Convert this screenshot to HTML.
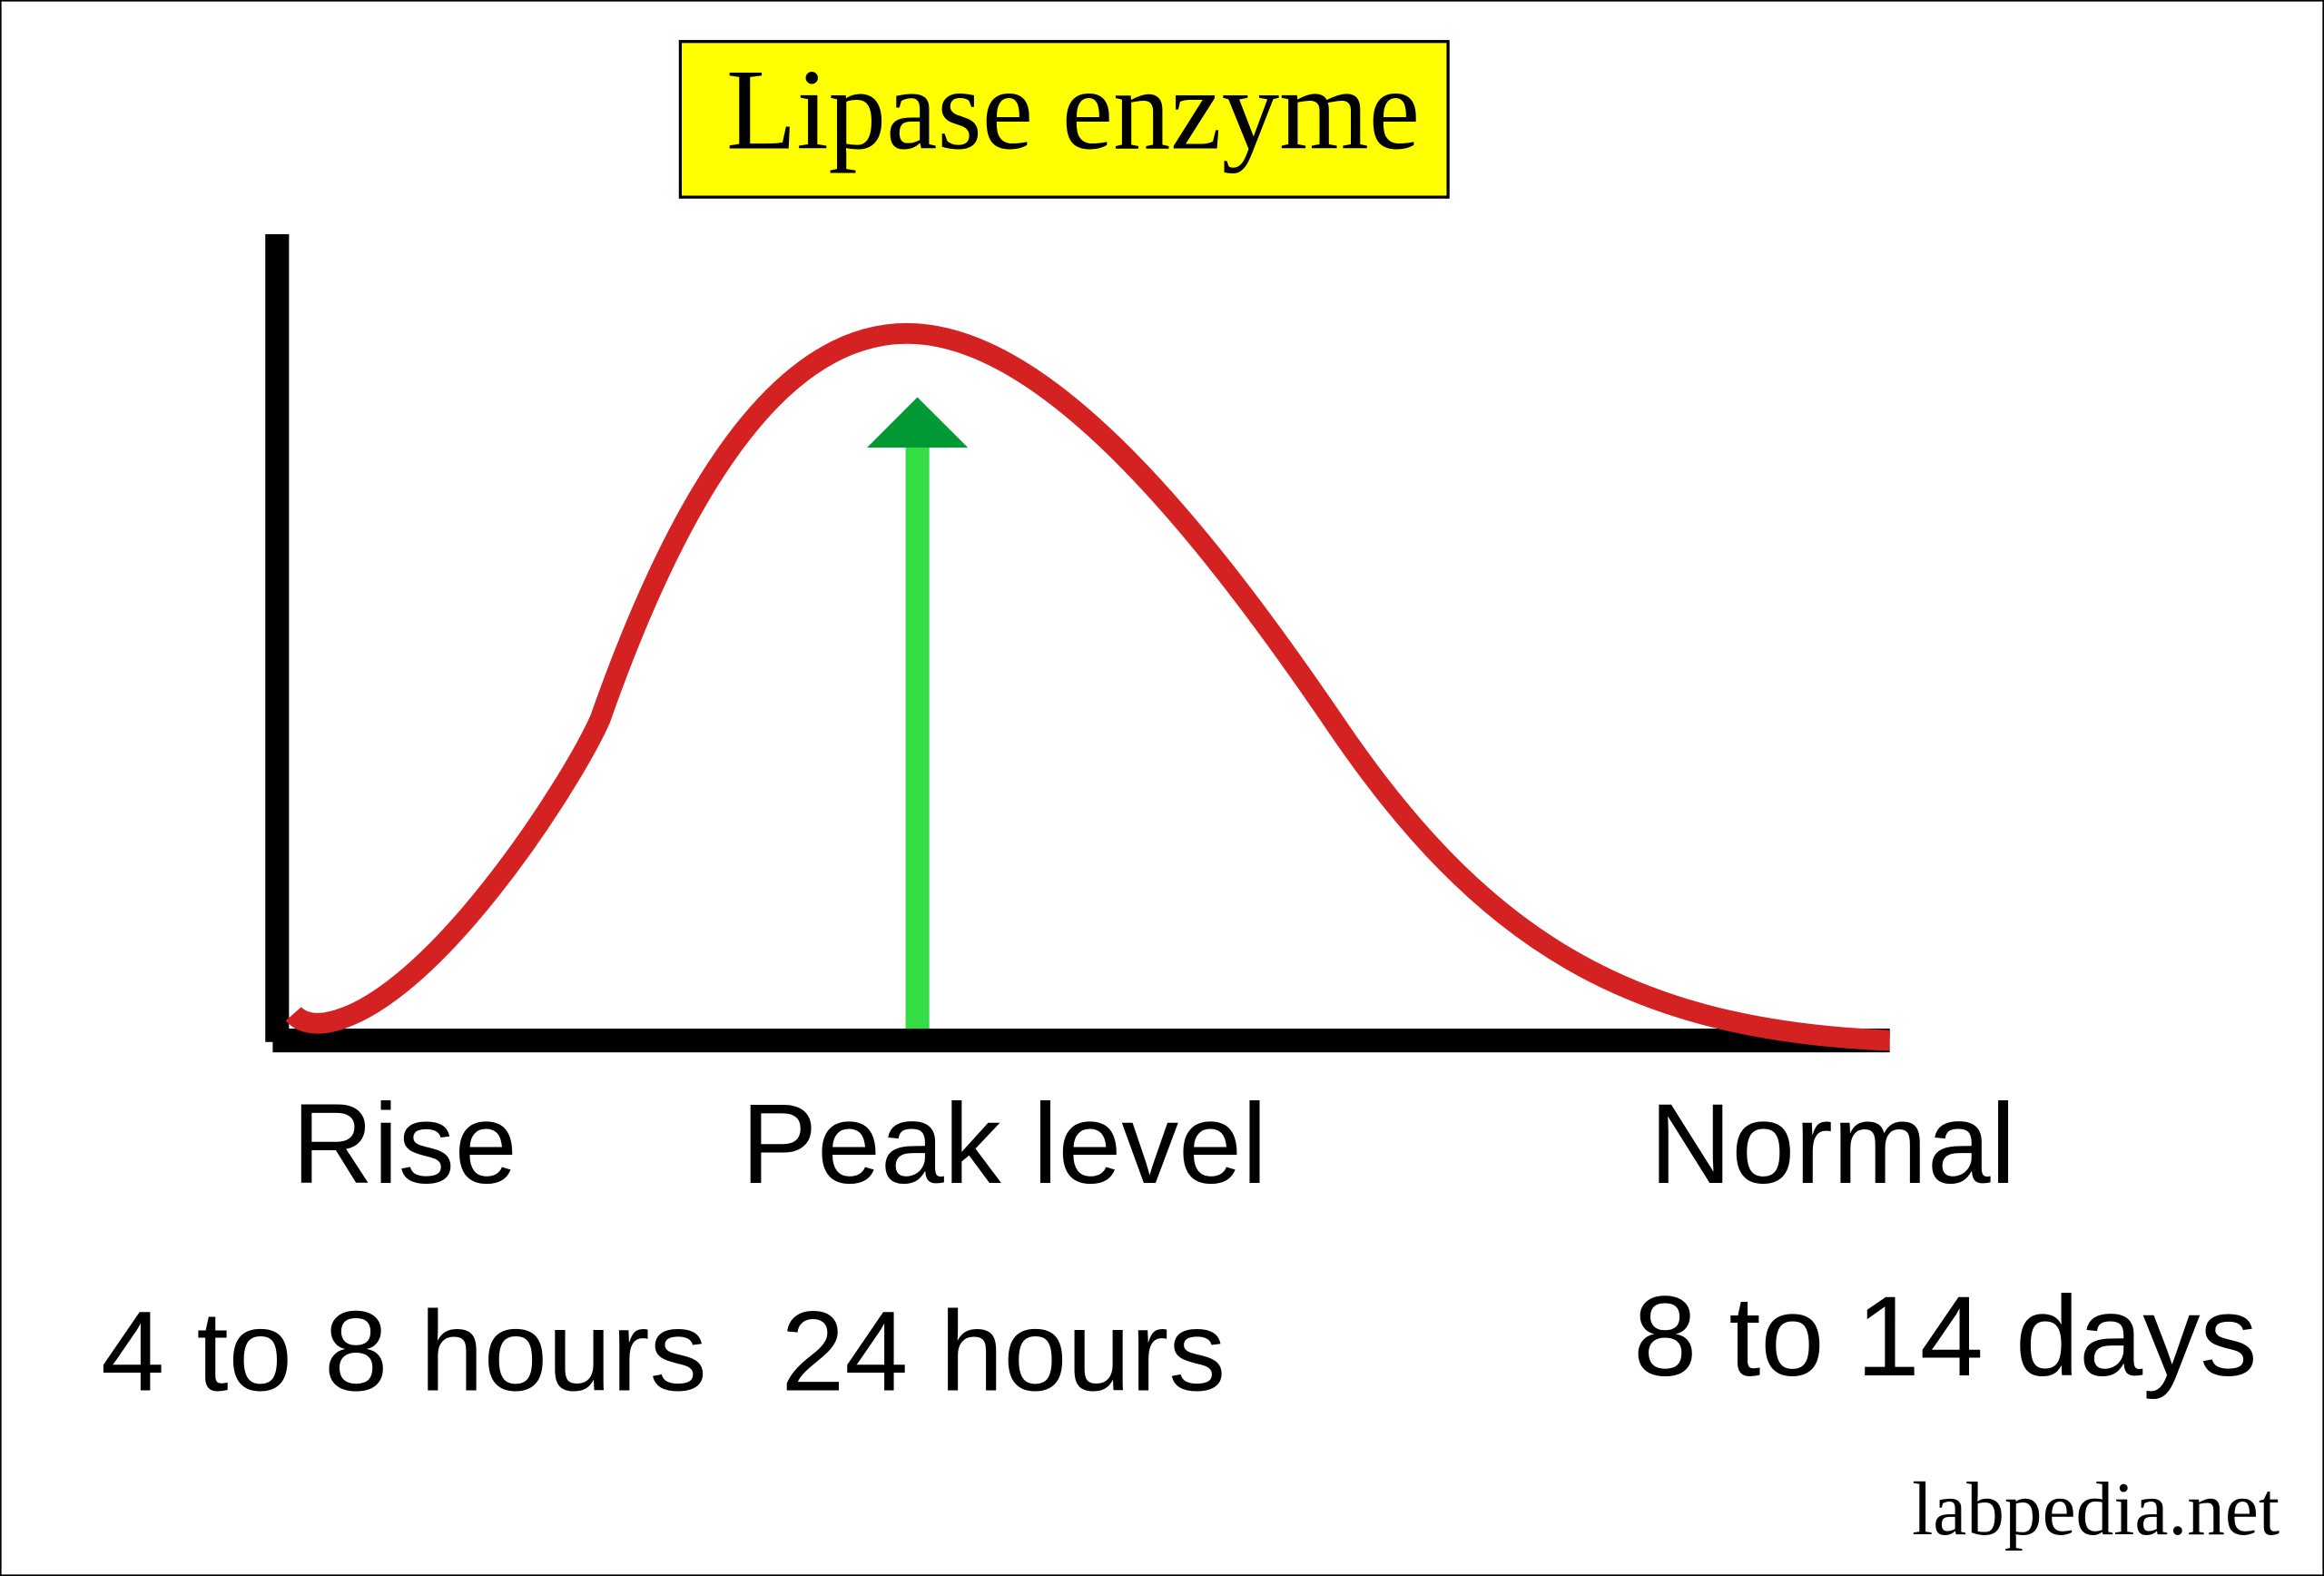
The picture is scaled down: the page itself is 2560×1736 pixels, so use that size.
<!DOCTYPE html>
<html><head><meta charset="utf-8"><style>
html,body{margin:0;padding:0;background:#fff;}
svg{display:block;}
</style></head><body>
<svg width="2560" height="1736" viewBox="0 0 1568 1063.3" preserveAspectRatio="none" xmlns="http://www.w3.org/2000/svg">
<rect x="0.5" y="0.5" width="1567" height="1062.3" fill="#fff" stroke="#000" stroke-width="1"/>
<rect x="459" y="28" width="518" height="105" fill="#ffff00" stroke="#000" stroke-width="2"/>
<text x="490" y="100" font-family="Liberation Serif, serif" font-size="78" textLength="468" lengthAdjust="spacingAndGlyphs">Lipase enzyme</text>
<rect x="179" y="158" width="16" height="545" fill="#000"/>
<rect x="184" y="694" width="1091" height="16" fill="#000"/>
<rect x="611" y="300" width="16" height="394" fill="#33dd44"/>
<polygon points="585,302 653,302 619,268" fill="#009933"/>
<path d="M198,684 Q205,692 220,690 C290,678 385,530 405,485 C470,300 540,225 612,225 C700,225 800,340 900,487 C1000,635 1100,695 1275,702" fill="none" stroke="#d42222" stroke-width="14"/>
<g font-family="Liberation Sans, sans-serif" font-size="77" fill="#000">
<text x="197" y="798" textLength="152" lengthAdjust="spacingAndGlyphs">Rise</text>
<text x="500" y="798" textLength="355" lengthAdjust="spacingAndGlyphs">Peak level</text>
<text x="1113" y="798" textLength="247" lengthAdjust="spacingAndGlyphs">Normal</text>
<text x="68" y="938" textLength="409" lengthAdjust="spacingAndGlyphs">4 to 8 hours</text>
<text x="527" y="938" textLength="300" lengthAdjust="spacingAndGlyphs">24 hours</text>
<text x="1102" y="928" textLength="421" lengthAdjust="spacingAndGlyphs">8 to 14 days</text>
</g>
<text x="1290" y="1035" font-family="Liberation Serif, serif" font-size="51" textLength="248" lengthAdjust="spacingAndGlyphs">labpedia.net</text>
</svg>
</body></html>
